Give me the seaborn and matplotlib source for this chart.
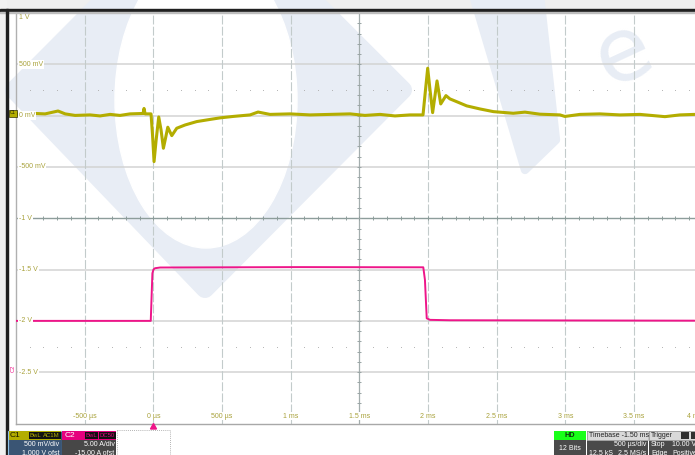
import numpy as np
import pandas as pd
import seaborn as sns
import matplotlib
matplotlib.use("Agg")
import matplotlib.pyplot as plt
from matplotlib.patches import Rectangle, Polygon, Ellipse
from matplotlib.transforms import Affine2D, blended_transform_factory

# C1 trace, time in ms, level in screen volts
c1_t = [-1.0, -0.861, -0.788, -0.694, -0.642, -0.57, -0.461, -0.388, -0.315, -0.243,
        -0.17, -0.075, -0.068, -0.06, -0.017, -0.006, 0.005, 0.02, 0.039, 0.056,
        0.073, 0.089, 0.105, 0.134, 0.17, 0.231, 0.316, 0.413, 0.485, 0.58,
        0.704, 0.762, 0.849, 0.995, 1.14, 1.286, 1.432, 1.54, 1.65, 1.759,
        1.868, 1.963, 1.981, 1.997, 2.014, 2.033, 2.065, 2.092, 2.13, 2.159,
        2.208, 2.281, 2.378, 2.475, 2.62, 2.705, 2.814, 2.96, 2.996, 3.105,
        3.25, 3.396, 3.542, 3.724, 3.833, 3.94]
c1_v = [0.015, 0.021, 0.017, 0.045, 0.017, 0.002, 0.007, -0.003, 0.012, 0.002,
        0.017, 0.021, 0.07, 0.017, 0.017, -0.19, -0.448, -0.24, -0.013, -0.14,
        -0.318, -0.217, -0.113, -0.195, -0.123, -0.091, -0.058, -0.037, -0.022, -0.008,
        0.007, 0.035, 0.012, 0.017, 0.007, 0.012, 0.017, 0.002, 0.012, -0.003,
        0.007, 0.007, 0.25, 0.462, 0.25, 0.029, 0.338, 0.114, 0.195, 0.163,
        0.136, 0.095, 0.065, 0.039, 0.023, 0.034, 0.014, 0.007, -0.008, 0.012,
        0.017, 0.007, 0.012, -0.01, 0.007, 0.012]

# C2 trace (current pulse) in screen volts
c2_t = [-1.0, -0.019, -0.007, 0.001, 0.012, 0.049, 1.068, 1.965, 1.977, 1.99, 2.014, 2.159, 3.94]
c2_v = [-2.0, -2.0, -1.536, -1.499, -1.487, -1.48, -1.476, -1.478, -1.6, -1.975, -1.99, -1.994, -1.998]

x_ticks = [-0.5, 0, 0.5, 1, 1.5, 2, 2.5, 3, 3.5, 4]
x_labels = ["-500 µs", "0 µs", "500 µs", "1 ms", "1.5 ms", "2 ms", "2.5 ms", "3 ms", "3.5 ms", "4 ms"]
y_ticks = [1, 0.5, 0, -0.5, -1, -1.5, -2, -2.5]
y_labels = ["1 V", "500 mV", "0 mV", "-500 mV", "-1 V", "-1.5 V", "-2 V", "-2.5 V"]

sns.set_style("white")
plt.rcParams["font.family"] = ["Liberation Sans", "DejaVu Sans"]

C1_COL = "#b3ad00"
C2_COL = "#ee1589"
LAB_COL = "#a9a23c"
WM = "#e8edf5"

fig = plt.figure(figsize=(6.95, 4.55), dpi=100)
fig.patch.set_facecolor("white")
# pixel transform, y going down like the screenshot
T = Affine2D().scale(1 / 695, -1 / 455).translate(0, 1) + fig.transFigure

# screen frame
fig.add_artist(Rectangle((0, 0), 695, 9, transform=T, color="#efefef", zorder=-5))
fig.add_artist(Rectangle((0, 0), 6, 455, transform=T, color="#f1f1f1", zorder=-5))

# watermark logo
diamond = Polygon([(14, 90), (208, -105), (403, 90), (205, 289)], closed=True, transform=T,
                  facecolor=WM, edgecolor=WM, lw=13, joinstyle="round", zorder=-3)
fig.add_artist(diamond)
hole = Ellipse((206, 100), 182, 296, transform=T, color="white", zorder=-2)
fig.add_artist(hole)
hole.set_clip_path(diamond)
fig.add_artist(Polygon([(473, -5), (540, -5), (556, 140), (525, 170)], closed=True, transform=T,
                       facecolor=WM, edgecolor=WM, lw=6, joinstyle="round", zorder=-3))
fig.text(623, 37, "e", transform=T, fontsize=64, color=WM, rotation=25,
         ha="center", va="center_baseline", zorder=-3, family="DejaVu Sans")

fig.add_artist(Rectangle((0, 9), 695, 2.8, transform=T, color="#202020", zorder=5))
fig.add_artist(Rectangle((0, 11.8), 695, 1.2, transform=T, color="#bdbdbd", zorder=5))
fig.add_artist(Rectangle((5.5, 9), 2.5, 446, transform=T, color="#202020", zorder=5))

ax = fig.add_axes([16 / 695, (455 - 423.5) / 455, (695 - 16) / 695, (423.5 - 13) / 455])
ax.set_facecolor("none")
ax.set_xlim(-1, 3.943)
ax.set_ylim(-3, 1.0)
ax.set_xticks([])
ax.set_yticks([])
for s in ["top", "right"]:
    ax.spines[s].set_visible(False)
ax.spines["left"].set_color("#b0b0b0")
ax.spines["bottom"].set_color("#a8a8a8")
ax.spines["left"].set_linewidth(1.0)
ax.spines["bottom"].set_linewidth(1.0)

# graticule
for yv in [0.5, 0, -0.5, -1.5, -2, -2.5]:
    ax.axhline(yv, color="#d3d3d3", lw=1.1, zorder=1)
for xv in [-0.5, 0, 0.5, 1, 2, 2.5, 3, 3.5]:
    ax.axvline(xv, color="#c3cbcb", lw=0.8, ls=(0, (8, 2)), zorder=1)
ax.axhline(-1, color="#8d9d9b", lw=1.0, zorder=1.2)
ax.axvline(1.5, color="#a3adad", lw=0.9, zorder=1.2)
ht = np.arange(-0.9, 3.95, 0.1)
ax.plot(ht, np.full(ht.size, -1.0), ls="none", marker="|", ms=3.0, mew=0.7, color="#8d9d9b", zorder=1.2)
vt = np.arange(-2.9, 1.0, 0.1)
ax.plot(np.full(vt.size, 1.5), vt, ls="none", marker="_", ms=3.0, mew=0.7, color="#9aa5a5", zorder=1.2)
dots = ht[np.abs(ht / 0.5 - np.round(ht / 0.5)) > 0.05]
for yv in [0.25, -2.25]:
    ax.plot(dots, np.full(dots.size, yv), ls="none", marker="s", ms=0.6, mew=0, color="#b0b0b0", zorder=1)

# traces
sns.lineplot(x=c2_t, y=c2_v, ax=ax, color=C2_COL, linewidth=1.4, estimator=None, sort=False, zorder=3)
sns.lineplot(x=c1_t, y=c1_v, ax=ax, color=C1_COL, linewidth=2.2, estimator=None, sort=False, zorder=3)

# level labels
ytr = blended_transform_factory(ax.transAxes, ax.transData)
for yv, lab in zip(y_ticks, y_labels):
    yy = 0.955 if yv == 1 else yv
    ax.text(0.0045, yy, lab, transform=ytr, fontsize=5, color=LAB_COL, ha="left", va="center",
            bbox=dict(facecolor="white", edgecolor="none", pad=0.6), zorder=4)
for xv, lab in zip(x_ticks, x_labels):
    if xv > 3.9:
        # last label is cut by the screen edge
        ax.text(3.885, -2.927, lab, fontsize=5, color=LAB_COL, ha="left", va="center",
                bbox=dict(facecolor="white", edgecolor="none", pad=0.6), zorder=4)
        continue
    ax.text(xv, -2.927, lab, fontsize=5, color=LAB_COL, ha="center", va="center",
            bbox=dict(facecolor="white", edgecolor="none", pad=0.6), zorder=4)

# channel markers
fig.add_artist(Rectangle((9, 109.5), 8, 7, transform=T, facecolor=C1_COL, edgecolor="#333300", lw=0.5, zorder=6))
fig.text(13, 113, "C1", transform=T, fontsize=3.3, color="#222200", ha="center", va="center", zorder=7)
fig.text(13, 368, "C2", transform=T, fontsize=4.2, color=C2_COL, ha="center", va="center", rotation=90, zorder=7)
fig.add_artist(Polygon([(150.5, 429), (156.5, 429), (153.5, 423.5)], transform=T, color=C2_COL, zorder=7))


# status bar
def box(x0, y0, x1, y1, fc, ec="none", lw=0.0, ls="-"):
    fig.add_artist(Rectangle((x0, y0), x1 - x0, y1 - y0, transform=T, facecolor=fc,
                             edgecolor=ec, lw=lw, ls=ls, zorder=6))


def txt(x, y, s, col="white", fs=5, ha="left", weight="normal"):
    fig.text(x, y, s, transform=T, fontsize=fs, color=col, ha=ha, va="center", zorder=7, weight=weight)


# C1
box(8, 430.5, 61.5, 456, "#3a5574", ec="#8ec0e6", lw=0.8)
box(8.5, 431, 61, 440, C1_COL)
txt(10, 435.7, "C1", col="#1a1a00", fs=6)
box(29, 432.2, 42.5, 439, "#111111")
txt(35.7, 435.7, "BwL", col=C1_COL, fs=4.3, ha="center")
box(43, 432.2, 60.5, 439, "#111111")
txt(51.7, 435.7, "AC1M", col=C1_COL, fs=4.3, ha="center")
txt(59.5, 445, "500 mV/div", fs=5, ha="right")
txt(59.5, 453.5, "1.000 V ofst", fs=5, ha="right")
# C2
box(62, 430.5, 116, 456, "#474747")
box(62, 431, 116, 440, "#e6007e")
txt(64.5, 435.7, "C2", col="white", fs=6)
box(85, 432.2, 98, 439, "#111111")
txt(91.5, 435.7, "BwL", col="#e6007e", fs=4.3, ha="center")
box(98.5, 432.2, 115.5, 439, "#111111")
txt(107, 435.7, "DC50", col="#e6007e", fs=4.3, ha="center")
txt(114.5, 445, "5.00 A/div", fs=5, ha="right")
txt(114.5, 453.5, "-15.00 A ofst", fs=5, ha="right")
# empty slot
box(117, 430, 170, 460, "none", ec="#9a9a9a", lw=0.6, ls=(0, (1, 1.5)))
# HD
box(554, 430.5, 586, 456, "#4a4a4a")
box(554, 430.5, 586, 440, "#19ff19")
txt(570, 435.5, "HD", col="#103010", fs=5.3, ha="center", weight="bold")
txt(570, 448, "12 Bits", fs=5, ha="center")
# timebase
box(587, 430.5, 648, 456, "#4a4a4a")
box(587, 430.5, 648, 440, "#d9d9d9", ec="#aaaaaa", lw=0.5)
txt(589, 435.5, "Timebase -1.50 ms", col="#202020", fs=5)
txt(646, 445, "500 µs/div", fs=5, ha="right")
txt(589, 453.5, "12.5 kS", fs=5)
txt(646, 453.5, "2.5 MS/s", fs=5, ha="right")
# trigger
box(649, 430.5, 700, 456, "#4a4a4a")
box(649, 430.5, 700, 440, "#d9d9d9", ec="#aaaaaa", lw=0.5)
txt(651, 435.5, "Trigger", col="#202020", fs=5)
box(681, 432, 689, 439, "#303030")
box(690.5, 432, 697, 439, "#303030")
txt(651, 445, "Stop", fs=5)
txt(672, 445, "10.00 V", fs=5)
txt(651, 453.5, "Edge", fs=5)
txt(672, 453.5, "Positive", fs=5)

fig.savefig("out.png", dpi=100)
